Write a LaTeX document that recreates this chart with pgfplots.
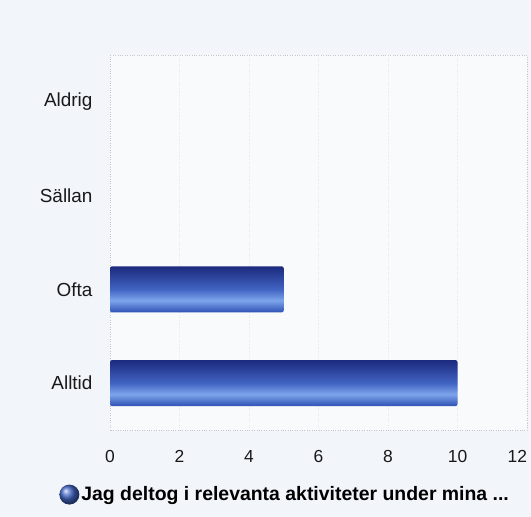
\documentclass[border=0pt]{standalone}
\usepackage{fontspec}
\setmainfont{Liberation Sans}
\usepackage{pgfplots}
\pgfplotsset{compat=1.18}
\definecolor{bgc}{RGB}{242,245,250}
\definecolor{plotbg}{RGB}{248,250,252}
\definecolor{bardark}{RGB}{28,42,125}
\definecolor{barbottom}{RGB}{45,80,180}
\definecolor{barlight}{RGB}{125,165,235}
\definecolor{barmid}{RGB}{65,100,195}
\pgfdeclareverticalshading{barshade}{100bp}{color(0bp)=(barbottom); color(25bp)=(barbottom); color(38bp)=(barlight); color(50bp)=(barmid); color(75bp)=(bardark); color(100bp)=(bardark)}
\begin{document}
\begin{tikzpicture}
\fill[bgc] (0,0) rectangle (531bp,517bp);
\begin{axis}[
  at={(110bp,87bp)}, anchor=south west,
  scale only axis,
  width=417bp, height=375bp,
  xmin=0, xmax=12,
  ymin=-0.5, ymax=3.5,
  xtick={0,2,4,6,8,10,12},
  xticklabels={0,2,4,6,8,10,{\makebox[0pt][r]{12}}},
  ytick={0,1,2,3},
  yticklabels={Alltid,Ofta,Sällan,Aldrig},
  axis background/.style={fill=plotbg},
  axis line style={draw=gray!45, dotted},
  xmajorgrids,
  grid style={draw=gray!18, dotted},
  major tick length=0pt,
  tick style={draw=none},
  /pgf/number format/assume math mode=true,
  xticklabel style={font=\fontsize{17.5}{20}\selectfont, text=black!90, yshift=-17bp},
  yticklabel style={font=\fontsize{19}{22}\selectfont, text=black!90, xshift=-14bp},
  xbar, bar width=46bp, bar shift=0pt,
  legend style={at={(0.42,-0.145)}, anchor=north, draw=none, fill=none,
    font=\bfseries\fontsize{19.5}{22}\selectfont, legend cell align=left,
    inner sep=0pt},
  legend image code/.code={\shade[ball color=barmid] (0.12cm,0cm) circle (10bp);},
]
\addplot[draw=none, rounded corners=2bp, shading=barshade]
  coordinates {(10,0)};
\addlegendentry{Jag deltog i relevanta aktiviteter under mina ...}
\addplot[forget plot, draw=none, rounded corners=2bp, shading=barshade]
  coordinates {(5,1)};
\end{axis}
\pgfresetboundingbox
\path (0,0) rectangle (531bp,517bp);
\end{tikzpicture}
\end{document}
